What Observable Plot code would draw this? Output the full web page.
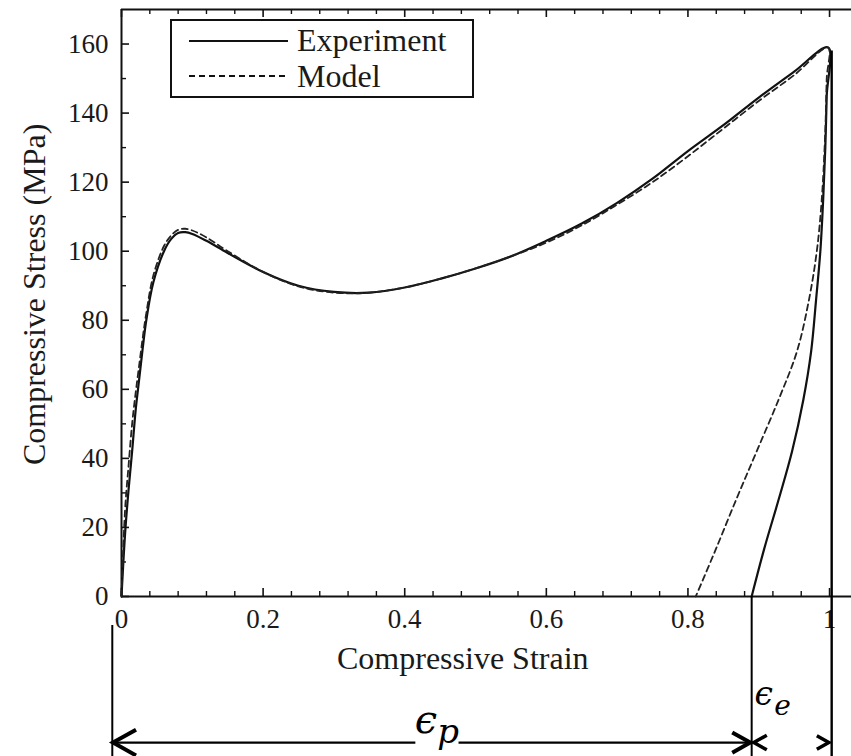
<!DOCTYPE html>
<html>
<head>
<meta charset="utf-8">
<script src="https://cdn.jsdelivr.net/npm/d3@7"></script>
<script src="https://cdn.jsdelivr.net/npm/@observablehq/plot@0.6"></script>
<style>
  body { margin: 0; background: #fff; }
  #chart svg { display: block; }
</style>
</head>
<body>
<div id="chart"></div>
<script>
// ---------- data ----------
const expStrain = [0, 0.005, 0.01, 0.015, 0.02, 0.025, 0.03, 0.035, 0.045, 0.06, 0.07, 0.08, 0.09, 0.1, 0.12, 0.15, 0.2, 0.25, 0.3, 0.35, 0.4, 0.45, 0.5, 0.55, 0.6, 0.65, 0.7, 0.75, 0.8, 0.85, 0.9, 0.95, 0.998,
                   0.996, 0.994, 0.991, 0.987, 0.981, 0.974, 0.963, 0.947, 0.928, 0.908, 0.89];
const expStress = [0, 18, 31, 42, 54, 63, 72, 80, 91, 100, 103.5, 105.3, 105.5, 105, 103, 99.5, 94, 90, 88.2, 88, 89.5, 92, 95, 98.5, 103, 108, 114, 121, 129, 136.5, 144.5, 152, 159,
                   145, 130, 115, 100, 86, 71, 57, 42, 28, 14, 0];

const modelStrain = [0, 0.005, 0.01, 0.015, 0.02, 0.025, 0.03, 0.035, 0.045, 0.06, 0.07, 0.08, 0.09, 0.1, 0.12, 0.15, 0.2, 0.25, 0.3, 0.35, 0.4, 0.45, 0.5, 0.55, 0.6, 0.65, 0.7, 0.75, 0.8, 0.85, 0.9, 0.95, 0.998,
                     0.996, 0.994, 0.989, 0.982, 0.971, 0.954, 0.928, 0.897, 0.868, 0.838, 0.811];
const modelStress = [0, 25, 38, 50, 59, 67, 75, 82, 93, 101.5, 104.5, 106.2, 106.5, 106, 104, 100, 94, 89.8, 88, 88, 89.5, 92, 95, 98.5, 102.5, 107.5, 113.5, 120, 127.5, 135.5, 143.5, 151, 159,
                     150, 135, 115, 100, 86, 71, 57, 42, 28, 13, 0];

const seriesNames = ["Experiment", "Model"];

const xTicks = [0, 0.2, 0.4, 0.6, 0.8, 1];
const xTickLabels = ["0", "0.2", "0.4", "0.6", "0.8", "1"];
const xMinorTicks = [0.04, 0.08, 0.12, 0.16, 0.24, 0.28, 0.32, 0.36, 0.44, 0.48, 0.52, 0.56, 0.64, 0.68, 0.72, 0.76, 0.84, 0.88, 0.92, 0.96];
const yTicks = [0, 20, 40, 60, 80, 100, 120, 140, 160];
const yMinorTicks = [10, 30, 50, 70, 90, 110, 130, 150];

const xTitle = "Compressive Strain";
const yTitle = "Compressive Stress (MPa)";

// strain partition annotation (plastic / elastic parts)
const partitionStrain = [-0.013, 0.89, 1.003];
const partitionLabels = ["p", "e"];

// ---------- build tables ----------
const expData = expStrain.map((s, i) => ({strain: s, stress: expStress[i]}));
const modelData = modelStrain.map((s, i) => ({strain: s, stress: modelStress[i]}));

const FONT = "'Liberation Serif', 'Times New Roman', serif";
const MATH = "'DejaVu Serif', serif";
const W = 851, H = 756;
const mT = 9, mB = 160, mL = 121, mR = 0;
const frameW = W - mL - mR, frameH = H - mT - mB;

// annotation geometry (layout, in scale units)
const annY = -42.3;          // arrow line
const annBottom = -46.5;     // bottom of the vertical lines
const [pa, pb, pc] = partitionStrain;

const chevronLeft = {draw(ctx, size) { const r = Math.sqrt(size / Math.PI); ctx.moveTo(r, -r * 0.56); ctx.lineTo(0, 0); ctx.lineTo(r, r * 0.56); }};
const chevronRight = {draw(ctx, size) { const r = Math.sqrt(size / Math.PI); ctx.moveTo(-r, -r * 0.56); ctx.lineTo(0, 0); ctx.lineTo(-r, r * 0.56); }};

const chart = Plot.plot({
  width: W, height: H,
  marginTop: mT, marginBottom: mB, marginLeft: mL, marginRight: mR,
  style: {fontFamily: FONT, fontSize: "27px", color: "#1a1a1a", background: "#fff"},
  x: {domain: [0, 1.031], ticks: xTicks},
  y: {domain: [0, 170], ticks: yTicks},
  marks: [
    // frame lines
    Plot.ruleY([0], {stroke: "#111", strokeWidth: 2}),
    Plot.ruleY([170], {stroke: "#111", strokeWidth: 2}),
    Plot.ruleX([0], {stroke: "#111", strokeWidth: 2}),
    // inward ticks: bottom
    Plot.tickX(xTicks, {x: d => d, insetTop: frameH - 8, stroke: "#111", strokeWidth: 1.6}),
    Plot.tickX(xMinorTicks, {x: d => d, insetTop: frameH - 5, stroke: "#111", strokeWidth: 1.4}),
    // top
    Plot.tickX(xTicks, {x: d => d, insetBottom: frameH - 8, stroke: "#111", strokeWidth: 1.6}),
    Plot.tickX(xMinorTicks, {x: d => d, insetBottom: frameH - 5, stroke: "#111", strokeWidth: 1.4}),
    // left
    Plot.tickY(yTicks, {y: d => d, insetRight: frameW - 8, stroke: "#111", strokeWidth: 1.6}),
    Plot.tickY(yMinorTicks, {y: d => d, insetRight: frameW - 5, stroke: "#111", strokeWidth: 1.4}),
    // tick labels
    Plot.axisX(xTicks, {tickSize: 0, tickPadding: 12, tickFormat: (d, i) => xTickLabels[i], label: null, fontSize: 27}),
    Plot.axisY(yTicks, {tickSize: 0, tickPadding: 13, label: null, fontSize: 27}),
    // axis titles
    Plot.text([xTitle], {x: 0.482, y: -21, text: d => d, lineAnchor: "bottom", fontSize: 32}),
    Plot.text([yTitle], {x: -0.122, y: 87.5, text: d => d, rotate: -90, lineAnchor: "middle", fontSize: 32}),
    // curves
    Plot.line(expData, {x: "strain", y: "stress", curve: "catmull-rom", stroke: "#111", strokeWidth: 2.2}),
    Plot.line(modelData, {x: "strain", y: "stress", curve: "catmull-rom", stroke: "#222", strokeWidth: 1.8, strokeDasharray: "6,4"}),
    // partition annotation: vertical lines
    Plot.ruleX([pa], {x: d => d, y1: -8.4, y2: annBottom, stroke: "#000", strokeWidth: 2}),
    Plot.ruleX([pb], {x: d => d, y1: 0, y2: annBottom, stroke: "#000", strokeWidth: 2}),
    Plot.ruleX([pc], {x: d => d, y1: 158, y2: annBottom, stroke: "#000", strokeWidth: 2.4}),
    // arrow shafts
    Plot.link([[pa, 0.415], [0.476, pb - 0.002]], {x1: d => d[0], x2: d => d[1], y1: annY, y2: annY, stroke: "#000", strokeWidth: 2.2}),
    // arrow heads
    Plot.dot([pa + 0.001], {x: d => d, y: annY, symbol: chevronLeft, r: 23, fill: "none", stroke: "#000", strokeWidth: 4}),
    Plot.dot([pb - 0.002], {x: d => d, y: annY, symbol: chevronRight, r: 18, fill: "none", stroke: "#000", strokeWidth: 4}),
    Plot.dot([pb + 0.003], {x: d => d, y: annY, symbol: chevronLeft, r: 13, fill: "none", stroke: "#000", strokeWidth: 3.5}),
    Plot.dot([pc - 0.004], {x: d => d, y: annY, symbol: chevronRight, r: 12, fill: "none", stroke: "#000", strokeWidth: 3.5}),
    // epsilon labels
    Plot.text(["ϵ"], {x: 0.414, y: -39.6, text: d => d, textAnchor: "start", lineAnchor: "bottom", fontFamily: MATH, fontStyle: "italic", fontSize: 40, fill: "#000"}),
    Plot.text([partitionLabels[0]], {x: 0.446, y: -42.3, text: d => d, textAnchor: "start", lineAnchor: "bottom", fontFamily: MATH, fontStyle: "italic", fontSize: 34, fill: "#000"}),
    Plot.text(["ϵ"], {x: 0.894, y: -31.5, text: d => d, textAnchor: "start", lineAnchor: "bottom", fontFamily: MATH, fontStyle: "italic", fontSize: 33, fill: "#000"}),
    Plot.text([partitionLabels[1]], {x: 0.922, y: -34.2, text: d => d, textAnchor: "start", lineAnchor: "bottom", fontFamily: MATH, fontStyle: "italic", fontSize: 28, fill: "#000"})
  ]
});

// legend box inside the plot (top-left)
const svg = d3.select(chart);
const lg = svg.append("g").attr("font-family", FONT).attr("font-size", 32).attr("fill", "#1a1a1a").attr("text-anchor", "start");
lg.append("rect").attr("x", 171).attr("y", 20).attr("width", 302).attr("height", 77)
  .attr("fill", "#fff").attr("stroke", "#111").attr("stroke-width", 2);
lg.append("line").attr("x1", 189).attr("x2", 288).attr("y1", 41).attr("y2", 41).attr("stroke", "#111").attr("stroke-width", 2.2);
lg.append("line").attr("x1", 189).attr("x2", 288).attr("y1", 76).attr("y2", 76).attr("stroke", "#111").attr("stroke-width", 1.8).attr("stroke-dasharray", "6,4");
lg.append("text").attr("x", 297).attr("y", 51).text(seriesNames[0]);
lg.append("text").attr("x", 297).attr("y", 87).text(seriesNames[1]);

document.getElementById("chart").appendChild(chart);
</script>
</body>
</html>
